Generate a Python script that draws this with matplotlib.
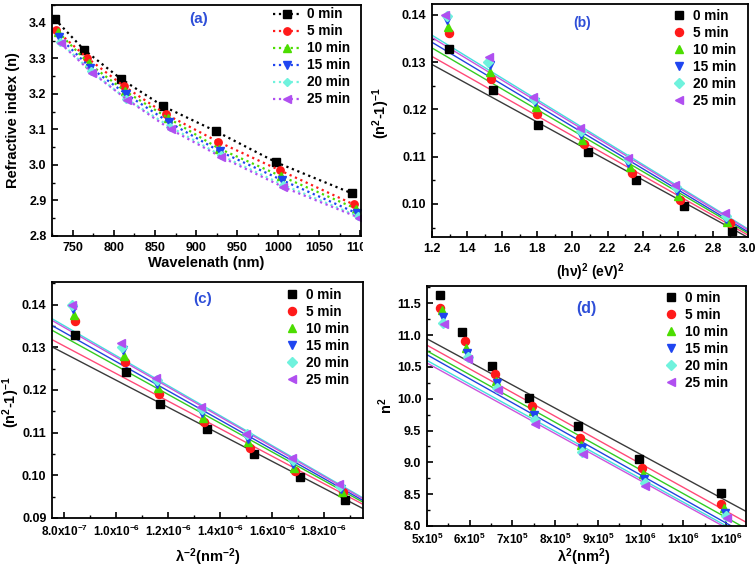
# -*- coding: utf-8 -*-
"""
Refractive index dispersion plots: n(lambda) and the Wemple-DiDomenico / Sellmeier fits
"""

import matplotlib
matplotlib.use('Agg')
import matplotlib.pyplot as plt
from matplotlib.ticker import FixedLocator, FixedFormatter, MultipleLocator
from matplotlib.transforms import Bbox, TransformedBbox

plt.rcParams['font.family'] = ['Liberation Sans', 'DejaVu Sans']
plt.rcParams['font.weight'] = 'bold'
plt.rcParams['axes.labelweight'] = 'bold'
plt.rcParams['mathtext.fontset'] = 'custom'
plt.rcParams['mathtext.rm'] = 'Liberation Sans:bold'
plt.rcParams['mathtext.bf'] = 'Liberation Sans:bold'
plt.rcParams['mathtext.it'] = 'Liberation Sans:bold'
plt.rcParams['mathtext.default'] = 'bf'

times = ['0 min', '5 min', '10 min', '15 min', '20 min', '25 min']
colors = ['#000000', '#ff1a1a', '#4cdd00', '#1f45f0', '#6ff2dd', '#b04ff0']
fit_colors = ['#3a3a3a', '#ff4a78', '#33cc22', '#2244dd', '#44dede', '#cc55dd']
markers = ['s', 'o', '^', 'v', 'D', '<']

# (a) refractive index vs wavelength
wl_a = [[728, 764, 808, 860, 924, 998, 1090],
        [729, 767, 812, 863, 927, 1002, 1092],
        [732, 769, 814, 866, 928, 1004, 1095],
        [733, 771, 815, 867, 929, 1005, 1096],
        [734, 772, 815, 868, 930, 1006, 1097],
        [735, 773, 816, 869, 931, 1006, 1098]]
n_a = [[3.410, 3.323, 3.243, 3.165, 3.095, 3.007, 2.920],
       [3.380, 3.302, 3.222, 3.143, 3.065, 2.985, 2.889],
       [3.374, 3.286, 3.207, 3.132, 3.046, 2.968, 2.877],
       [3.360, 3.274, 3.199, 3.120, 3.038, 2.957, 2.864],
       [3.346, 3.264, 3.186, 3.108, 3.027, 2.944, 2.856],
       [3.342, 3.260, 3.184, 3.100, 3.022, 2.938, 2.852]]

# (b) (n^2-1)^-1 vs (hv)^2
hv2_b = [[1.295, 1.545, 1.804, 2.086, 2.360, 2.638, 2.909],
         [1.295, 1.537, 1.796, 2.067, 2.337, 2.613, 2.895],
         [1.290, 1.532, 1.790, 2.057, 2.328, 2.604, 2.882],
         [1.287, 1.530, 1.787, 2.050, 2.318, 2.597, 2.876],
         [1.283, 1.520, 1.781, 2.046, 2.314, 2.591, 2.873],
         [1.276, 1.524, 1.777, 2.044, 2.314, 2.587, 2.867]]
# (b) and (c) share the same y quantity
inv_bc = [[0.1328, 0.1242, 0.1167, 0.1109, 0.1050, 0.0996, 0.0942],
          [0.1361, 0.1265, 0.1191, 0.1126, 0.1065, 0.1009, 0.0960],
          [0.1375, 0.1280, 0.1205, 0.1135, 0.1078, 0.1017, 0.0962],
          [0.1390, 0.1293, 0.1215, 0.1145, 0.1086, 0.1027, 0.0968],
          [0.1398, 0.1300, 0.1223, 0.1155, 0.1096, 0.1035, 0.0975],
          [0.1400, 0.1311, 0.1227, 0.1160, 0.1098, 0.1041, 0.0980]]
fit_b = [(0.1295, 0.0929), (0.1312, 0.0934), (0.1330, 0.0938),
         (0.1342, 0.0941), (0.1357, 0.0947), (0.1352, 0.0945)]

# (c) (n^2-1)^-1 vs lambda^-2
lam_inv2_c = [[8.42e-7, 1.039e-6, 1.168e-6, 1.349e-6, 1.529e-6, 1.709e-6, 1.882e-6],
              [8.42e-7, 1.033e-6, 1.165e-6, 1.339e-6, 1.514e-6, 1.690e-6, 1.872e-6],
              [8.37e-7, 1.029e-6, 1.160e-6, 1.334e-6, 1.509e-6, 1.685e-6, 1.868e-6],
              [8.35e-7, 1.027e-6, 1.158e-6, 1.331e-6, 1.506e-6, 1.682e-6, 1.864e-6],
              [8.30e-7, 1.022e-6, 1.155e-6, 1.329e-6, 1.504e-6, 1.680e-6, 1.862e-6],
              [8.28e-7, 1.019e-6, 1.152e-6, 1.326e-6, 1.501e-6, 1.677e-6, 1.859e-6]]
fit_c = [(0.1301, 0.0922), (0.1318, 0.0932), (0.1340, 0.0937),
         (0.1351, 0.0941), (0.1367, 0.0947), (0.1363, 0.0945)]

# (d) n^2 vs lambda^2
lam2_d = [[5.30e5, 5.82e5, 6.52e5, 7.38e5, 8.54e5, 9.95e5, 1.187e6],
          [5.31e5, 5.89e5, 6.59e5, 7.45e5, 8.58e5, 1.004e6, 1.188e6],
          [5.35e5, 5.91e5, 6.61e5, 7.49e5, 8.60e5, 1.006e6, 1.196e6],
          [5.37e5, 5.93e5, 6.63e5, 7.51e5, 8.62e5, 1.008e6, 1.198e6],
          [5.38e5, 5.95e5, 6.64e5, 7.52e5, 8.63e5, 1.009e6, 1.199e6],
          [5.40e5, 5.96e5, 6.66e5, 7.52e5, 8.65e5, 1.009e6, 1.201e6]]
n2_d = [[11.63, 11.04, 10.52, 10.01, 9.57, 9.05, 8.52],
        [11.43, 10.90, 10.39, 9.88, 9.39, 8.91, 8.34],
        [11.39, 10.79, 10.28, 9.81, 9.27, 8.81, 8.28],
        [11.29, 10.72, 10.24, 9.74, 9.23, 8.74, 8.20],
        [11.19, 10.66, 10.17, 9.66, 9.16, 8.67, 8.15],
        [11.17, 10.63, 10.14, 9.61, 9.13, 8.63, 8.12]]
fit_d = [(10.94, 8.23), (10.84, 8.06), (10.75, 7.96),
         (10.69, 7.87), (10.60, 7.83), (10.56, 7.80)]

# axis ranges and tick labels
xlim_a, ylim_a = (724.5, 1101), (2.8, 3.45)
xlim_b, ylim_b = (1.2, 3.0), (0.093, 0.1423)
xlim_c, ylim_c = (7.525e-7, 1.95e-6), (0.09, 0.1453)
xlim_d, ylim_d = (5e5, 1.2465e6), (8.0, 11.77)

xticks_c = [8e-7, 1e-6, 1.2e-6, 1.4e-6, 1.6e-6, 1.8e-6]
xticklabels_c = [r'$8.0x10^{-7}$', r'$1.0x10^{-6}$', r'$1.2x10^{-6}$',
                 r'$1.4x10^{-6}$', r'$1.6x10^{-6}$', r'$1.8x10^{-6}$']
xticks_d = [5e5, 6e5, 7e5, 8e5, 9e5, 1e6, 1.1e6, 1.2e6]
xticklabels_d = [r'$5x10^{5}$', r'$6x10^{5}$', r'$7x10^{5}$', r'$8x10^{5}$',
                 r'$9x10^{5}$', r'$1x10^{6}$', r'$1x10^{6}$', r'$1x10^{6}$']

W, H = 756, 568
label_color = '#2f4fd8'


def px_axes(fig, left, top, right, bottom):
    return fig.add_axes([left / W, 1 - bottom / H, (right - left) / W, (bottom - top) / H])


def style_axes(ax):
    for s in ax.spines.values():
        s.set_linewidth(1.3)
    ax.tick_params(which='both', direction='in', top=False, right=False,
                   labelsize=9, pad=4)
    ax.tick_params(which='major', length=4.5, width=1.2)
    ax.tick_params(which='minor', length=2.5, width=1.0)


def add_legend(ax, x0, y0, handlelength):
    ax.legend(loc='upper left', bbox_to_anchor=(x0, y0), frameon=False,
              fontsize=9.8, labelspacing=0.22, handlelength=handlelength,
              handletextpad=0.5, borderpad=0, borderaxespad=0)


def msize(m):
    return 4.8 if m == 'D' else 5.8


def scatter_fit(ax, xs, ys, fits, xlim):
    for i in range(len(times)):
        ax.plot(xlim, fits[i], '-', color=fit_colors[i], lw=1.0, zorder=2)
    for i in range(len(times)):
        ax.plot(xs[i], ys[i], ls='none', marker=markers[i], ms=msize(markers[i]),
                color=colors[i], mec=colors[i], label=times[i], zorder=3)


fig = plt.figure(figsize=(W / 100, H / 100), dpi=100)

# ---- (a)
ax = px_axes(fig, 52, 5, 361, 236)
for i in range(len(times)):
    ax.plot(wl_a[i], n_a[i], ls=':', lw=1.6, marker=markers[i],
            ms=msize(markers[i]) - 0.5, color=colors[i], label=times[i])
ax.set_xlim(*xlim_a)
ax.set_ylim(*ylim_a)
ax.xaxis.set_major_locator(FixedLocator([750, 800, 850, 900, 950, 1000, 1050, 1100]))
ax.xaxis.set_minor_locator(MultipleLocator(25))
ax.yaxis.set_major_locator(MultipleLocator(0.1))
ax.yaxis.set_minor_locator(MultipleLocator(0.05))
ax.yaxis.set_major_formatter(matplotlib.ticker.FormatStrFormatter('%.1f'))
style_axes(ax)
ax.set_xlabel('Wavelenath (nm)', fontsize=10.5)
ax.set_ylabel('Refractive index (n)', fontsize=10.5)
ax.xaxis.set_label_coords(0.5, -0.085)
ax.yaxis.set_label_coords(-0.105, 0.5)
ax.text(0.475, 0.94, '(a)', transform=ax.transAxes, color=label_color,
        fontsize=11, fontweight='bold', ha='center', va='center')
add_legend(ax, 0.715, 0.99, 2.0)
clip = TransformedBbox(Bbox([[0, 0], [363 / W, 1]]), fig.transFigure)
for t in ax.xaxis.get_major_ticks():
    t.label1.set_clip_box(clip)
    t.label1.set_clip_on(True)

# ---- (b)
ax = px_axes(fig, 432, 4, 748, 237)
scatter_fit(ax, hv2_b, inv_bc, fit_b, xlim_b)
ax.set_xlim(*xlim_b)
ax.set_ylim(*ylim_b)
ax.xaxis.set_major_locator(MultipleLocator(0.2))
ax.xaxis.set_minor_locator(MultipleLocator(0.1))
ax.yaxis.set_major_locator(MultipleLocator(0.01))
ax.yaxis.set_minor_locator(MultipleLocator(0.005))
ax.xaxis.set_major_formatter(matplotlib.ticker.FormatStrFormatter('%.1f'))
ax.yaxis.set_major_formatter(matplotlib.ticker.FormatStrFormatter('%.2f'))
style_axes(ax)
ax.set_xlabel(r'(h$\nu$)$^{2}$ (eV)$^{2}$', fontsize=10)
ax.set_ylabel(r'(n$^{2}$-1)$^{-1}$', fontsize=10.5)
ax.xaxis.set_label_coords(0.5, -0.105)
ax.yaxis.set_label_coords(-0.125, 0.53)
ax.text(0.475, 0.92, '(b)', transform=ax.transAxes, color=label_color,
        fontsize=10, fontweight='bold', ha='center', va='center')
add_legend(ax, 0.76, 0.98, 1.0)

# ---- (c)
ax = px_axes(fig, 52, 282, 363, 518)
scatter_fit(ax, lam_inv2_c, inv_bc, fit_c, xlim_c)
ax.set_xlim(*xlim_c)
ax.set_ylim(*ylim_c)
ax.xaxis.set_major_locator(FixedLocator(xticks_c))
ax.xaxis.set_major_formatter(FixedFormatter(xticklabels_c))
ax.xaxis.set_minor_locator(MultipleLocator(1e-7))
ax.yaxis.set_major_locator(MultipleLocator(0.01))
ax.yaxis.set_minor_locator(MultipleLocator(0.005))
ax.yaxis.set_major_formatter(matplotlib.ticker.FormatStrFormatter('%.2f'))
style_axes(ax)
ax.tick_params(axis='x', labelsize=8.5)
ax.set_xlabel(r'$\lambda^{-2}$(nm$^{-2}$)', fontsize=10.5)
ax.set_ylabel(r'(n$^{2}$-1)$^{-1}$', fontsize=10.5)
ax.xaxis.set_label_coords(0.5, -0.12)
ax.yaxis.set_label_coords(-0.098, 0.49)
ax.text(0.485, 0.93, '(c)', transform=ax.transAxes, color=label_color,
        fontsize=11, fontweight='bold', ha='center', va='center')
add_legend(ax, 0.75, 0.975, 1.0)

# ---- (d)
ax = px_axes(fig, 427, 286, 746, 526)
scatter_fit(ax, lam2_d, n2_d, fit_d, xlim_d)
ax.set_xlim(*xlim_d)
ax.set_ylim(*ylim_d)
ax.xaxis.set_major_locator(FixedLocator(xticks_d))
ax.xaxis.set_major_formatter(FixedFormatter(xticklabels_d))
ax.xaxis.set_minor_locator(MultipleLocator(5e4))
ax.yaxis.set_major_locator(MultipleLocator(0.5))
ax.yaxis.set_minor_locator(MultipleLocator(0.25))
ax.yaxis.set_major_formatter(matplotlib.ticker.FormatStrFormatter('%.1f'))
style_axes(ax)
ax.tick_params(axis='x', labelsize=8.5)
ax.set_xlabel(r'$\lambda^{2}$(nm$^{2}$)', fontsize=10.5)
ax.set_ylabel(r'n$^{2}$', fontsize=10.5)
ax.xaxis.set_label_coords(0.49, -0.085)
ax.yaxis.set_label_coords(-0.10, 0.5)
ax.text(0.5, 0.905, '(d)', transform=ax.transAxes, color=label_color,
        fontsize=11.5, fontweight='bold', ha='center', va='center')
add_legend(ax, 0.745, 0.98, 1.0)

fig.savefig('out.png', dpi=100)
